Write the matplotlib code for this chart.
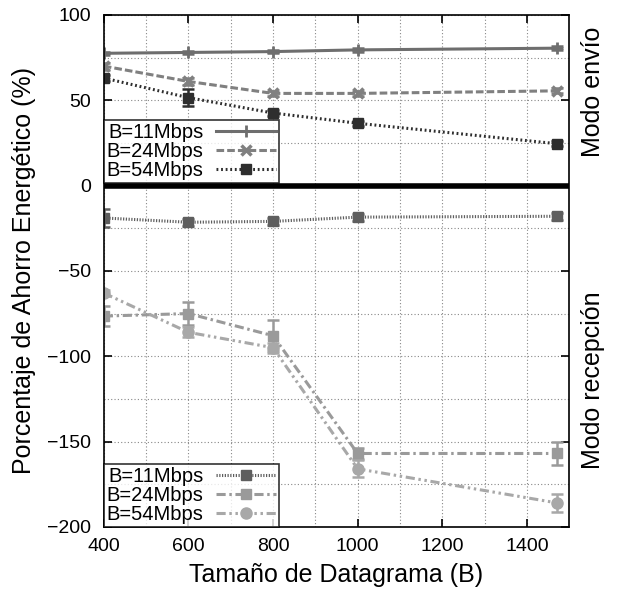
import matplotlib
matplotlib.use("Agg")
import matplotlib.pyplot as plt
import numpy as np

plt.rcParams['font.family'] = ['Liberation Sans', 'DejaVu Sans']

x = [400, 600, 800, 1000, 1472]
labels = ['B=11Mbps', 'B=24Mbps', 'B=54Mbps']

send_11 = [77.5, 78, 78.5, 79.5, 80.5]
send_24 = [70, 61, 54, 54, 55.5]
send_54 = [63, 51.5, 42.5, 36.5, 24.5]
send_err_11 = [1, 1, 1, 1, 1]
send_err_24 = [2, 2, 1.5, 1.5, 1.5]
send_err_54 = [2, 5, 2, 1.5, 1.5]

recv_11 = [-19, -21.5, -21, -18.5, -18]
recv_24 = [-76.5, -75, -88, -157, -157]
recv_54 = [-63, -86, -95, -166, -186]
recv_err_11 = [5, 2, 2, 2, 2]
recv_err_24 = [6, 7, 9, 3, 7]
recv_err_54 = [2, 3, 3, 5, 5]

fig = plt.figure(figsize=(6.18, 5.96), dpi=100)
ax = fig.add_axes([0.168, 0.116, 0.753, 0.859])

lw = 2.2
send_styles = [
    dict(color='#6e6e6e', ls='-', marker='+', ms=8, mew=2),
    dict(color='#808080', ls=(0, (2.5, 1)), marker='x', ms=7, mew=2.5),
    dict(color='#2e2e2e', ls=(0, (0.6, 0.9)), marker='s', ms=7, mew=1),
]
recv_styles = [
    dict(color='#5e5e5e', ls=(0, (0.4, 0.5)), marker='s', ms=7, mew=1),
    dict(color='#9a9a9a', ls=(0, (3, 1.2, 0.8, 1.2)), marker='s', ms=7, mew=1),
    dict(color='#a8a8a8', ls=(0, (3, 1.2, 0.8, 1.2, 0.8, 1.2)), marker='o', ms=8, mew=1),
]

send = [send_11, send_24, send_54]
send_err = [send_err_11, send_err_24, send_err_54]
recv = [recv_11, recv_24, recv_54]
recv_err = [recv_err_11, recv_err_24, recv_err_54]

h_send = []
for y, e, st, lab in zip(send, send_err, send_styles, labels):
    c = st['color']
    ax.errorbar(x, y, yerr=e, fmt='none', ecolor=c, elinewidth=1.8, capsize=4, capthick=1.8)
    h, = ax.plot(x, y, color=c, ls=st['ls'], lw=lw, marker=st['marker'], ms=st['ms'],
                 mew=st['mew'], mec=c, mfc=c, label=lab)
    h_send.append(h)

h_recv = []
for y, e, st, lab in zip(recv, recv_err, recv_styles, labels):
    c = st['color']
    ax.errorbar(x, y, yerr=e, fmt='none', ecolor=c, elinewidth=1.8, capsize=4, capthick=1.8)
    h, = ax.plot(x, y, color=c, ls=st['ls'], lw=lw, marker=st['marker'], ms=st['ms'],
                 mew=st['mew'], mec=c, mfc=c, label=lab)
    h_recv.append(h)

ax.axhline(0, color='black', lw=4, zorder=5)

ax.set_xlim(400, 1500)
ax.set_ylim(-200, 100)
ax.set_xticks(np.arange(400, 1401, 200))
ax.set_xticks(np.arange(500, 1501, 100), minor=True)
ax.set_yticks(np.arange(-200, 101, 50))
ax.set_yticks(np.arange(-175, 100, 25), minor=True)
ax.set_yticklabels(['\u2212200', '\u2212150', '\u2212100', '\u221250', '0', '50', '100'])
ax.grid(True, which='both', color='#888888', ls=(0, (1, 2)), lw=0.8)
ax.tick_params(which='both', direction='in', top=True, right=True, labelsize=14, width=1.2)
ax.tick_params(which='major', length=6)
ax.tick_params(axis='y', which='major', pad=9)
ax.tick_params(axis='x', which='major', pad=8)
ax.tick_params(which='minor', length=0)
for s in ax.spines.values():
    s.set_linewidth(1.2)

ax.set_xlabel('Tamaño de Datagrama (B)', fontsize=18, labelpad=6)
ax.set_ylabel('Porcentaje de Ahorro Energético (%)', fontsize=18, labelpad=8)

leg_kw = dict(fontsize=14.5, frameon=True, fancybox=False, edgecolor='black', borderpad=0.15,
              labelspacing=0.0, handlelength=3.0, handletextpad=0.6, borderaxespad=0,
              markerfirst=False)
leg1 = ax.legend(handles=h_send, loc='lower left', bbox_to_anchor=(0.0, 0.672), **leg_kw)
leg1.get_frame().set_linewidth(1.2)
leg1.set_zorder(10)
ax.add_artist(leg1)
leg2 = ax.legend(handles=h_recv, loc='lower left', bbox_to_anchor=(0.0, 0.0), **leg_kw)
leg2.get_frame().set_linewidth(1.2)

fig.text(0.96, 1 - 92 / 596, 'Modo envío', rotation=90, fontsize=18, ha='center', va='center')
fig.text(0.96, 1 - 380 / 596, 'Modo recepción', rotation=90, fontsize=18, ha='center', va='center')

fig.savefig('out.png', dpi=100)
